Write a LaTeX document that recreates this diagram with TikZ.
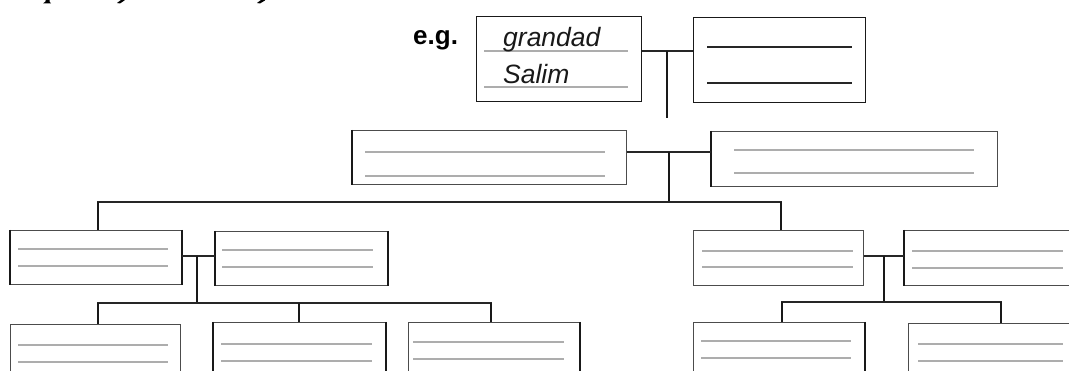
\documentclass[tikz,border=0pt]{standalone}
\usepackage{fontspec}
\newfontfamily\lsans{Liberation Sans}
\begin{document}
\begin{tikzpicture}[x=1pt,y=-1pt,
  box/.style={rectangle, draw=black!70, line width=0.9pt, anchor=north west, inner sep=0pt, fill=white},
  topbox/.style={box, draw=black!90, line width=1.4pt},
  thickside/.style={draw=black!90, line width=2.5pt},
  conn/.style={draw=black!85, line width=1.2pt},
  stem/.style={draw=black!90, line width=2.1pt},
  rule/.style={draw=black!32, line width=1.3pt},
  darkrule/.style={draw=black!85, line width=1.1pt},
  lbl/.style={font=\lsans\itshape\fontsize{26.5}{30}\selectfont, anchor=base west, inner sep=0pt, text=black!90},
  eglbl/.style={font=\lsans\bfseries\fontsize{26}{30}\selectfont, anchor=base west, inner sep=0pt}
]
\useasboundingbox (0,0) rectangle (1069,371);
\clip (0,0) rectangle (1069,371);
\fill[white] (0,0) rectangle (1069,371);

% cut-off descenders of a heading above the picture
\fill[black] (43,3.5) -- (51,3.5) -- (49.5,1.5) -- (49.5,0) -- (45.5,0) -- (45.5,1.5) -- cycle;
\fill[black] (117,3) -- (120,3.5) -- (124.5,0.5) -- (124.5,0) -- (121,0) -- cycle;
\fill[black] (257,3) -- (260,3.5) -- (265,0.5) -- (265,0) -- (261,0) -- cycle;

% coordinates of junctions
\coordinate (j1) at (667,51);
\coordinate (j1e) at (667,118);
\coordinate (j2) at (669,152);
\coordinate (j2b) at (669,202);
\coordinate (h1l) at (98,202);
\coordinate (h1r) at (781,202);
\coordinate (j3) at (197,256);
\coordinate (j3b) at (197,303);
\coordinate (h2l) at (98,303);
\coordinate (h2m) at (299,303);
\coordinate (h2r) at (491,303);
\coordinate (j4) at (884,256);
\coordinate (j4b) at (884,302);
\coordinate (h3l) at (782,302);
\coordinate (h3r) at (1001,302);

% boxes
\node[topbox, minimum width=165pt, minimum height=85pt] (b1) at (476,16) {};
\node[topbox, minimum width=172pt, minimum height=85pt] (b2) at (693,17) {};
\node[box, minimum width=274pt, minimum height=54pt] (b3) at (352,130) {};
\node[box, minimum width=286pt, minimum height=55pt] (b4) at (711,131) {};
\node[box, minimum width=171pt, minimum height=54pt] (b5) at (10,230) {};
\node[box, minimum width=172pt, minimum height=54pt] (b6) at (215,231) {};
\node[box, minimum width=170pt, minimum height=70pt] (b7) at (10,324) {};
\node[box, minimum width=172pt, minimum height=70pt] (b8) at (213,322) {};
\node[box, minimum width=171pt, minimum height=70pt] (b9) at (408,322) {};
\node[box, minimum width=170pt, minimum height=55pt] (b10) at (693,230) {};
\node[box, minimum width=185pt, minimum height=55pt] (b11) at (904,230) {};
\node[box, minimum width=171pt, minimum height=70pt] (b12) at (693,322) {};
\node[box, minimum width=185pt, minimum height=70pt] (b13) at (908,323) {};

% thick sides
\draw[thickside] (b3.north west) -- (b3.south west);
\draw[thickside] (b4.north west) -- (b4.south west);
\draw[thickside] (b5.north west) -- (b5.south west);
\draw[thickside] (b5.north east) -- (b5.south east);
\draw[thickside] (b6.north west) -- (b6.south west);
\draw[thickside] (b6.north east) -- (b6.south east);
\draw[thickside] (b8.north west) -- (b8.south west);
\draw[thickside] (b8.north east) -- (b8.south east);
\draw[thickside] (b9.north east) -- (b9.south east);
\draw[thickside] (b11.north west) -- (b11.south west);
\draw[thickside] (b12.north east) -- (b12.south east);

% writing lines inside boxes
\draw[rule] (484,51) -- (628,51);
\draw[rule] (484,87) -- (628,87);
\draw[darkrule] (707,47) -- (852,47);
\draw[darkrule] (707,83) -- (852,83);
\draw[rule] (365,152) -- (605,152);
\draw[rule] (365,176) -- (605,176);
\draw[rule] (734,150) -- (974,150);
\draw[rule] (734,173) -- (974,173);
\draw[rule] (18,249) -- (168,249);
\draw[rule] (18,266) -- (168,266);
\draw[rule] (222,250) -- (373,250);
\draw[rule] (222,267) -- (373,267);
\draw[rule] (18,345) -- (168,345);
\draw[rule] (18,362) -- (168,362);
\draw[rule] (221,344) -- (372,344);
\draw[rule] (221,361) -- (372,361);
\draw[rule] (413,342) -- (564,342);
\draw[rule] (413,359) -- (564,359);
\draw[rule] (702,251) -- (853,251);
\draw[rule] (702,267) -- (853,267);
\draw[rule] (912,251) -- (1063,251);
\draw[rule] (912,268) -- (1063,268);
\draw[rule] (701,341) -- (851,341);
\draw[rule] (701,358) -- (851,358);
\draw[rule] (918,344) -- (1063,344);
\draw[rule] (918,361) -- (1063,361);

% texts
\node[eglbl] (eg) at (413,45) {e.g.};
\node[lbl] (t1) at (503,47) {grandad};
\node[lbl] (t2) at (503,84) {Salim};

% connectors: couples
\draw[conn] (b1.east |- j1) -- (b2.west |- j1);
\draw[stem] (j1) -- (j1e);
\draw[conn] (b3.east |- j2) -- (b4.west |- j2);
\draw[stem] (j2) -- (j2b);
\draw[conn] (h1l |- b5.north) -- (h1l) -- (h1r) -- (h1r |- b10.north);
\draw[stem] (h1l) -- (h1l |- b5.north);
\draw[stem] (h1r) -- (h1r |- b10.north);

\draw[conn] (b5.east |- j3) -- (b6.west |- j3);
\draw[stem] (j3) -- (j3b);
\draw[conn] (h2l |- b7.north) -- (h2l) -- (h2r) -- (h2r |- b9.north);
\draw[stem] (h2l) -- (h2l |- b7.north);
\draw[stem] (h2m) -- (h2m |- b8.north);
\draw[stem] (h2r) -- (h2r |- b9.north);

\draw[conn] (b10.east |- j4) -- (b11.west |- j4);
\draw[stem] (j4) -- (j4b);
\draw[conn] (h3l |- b12.north) -- (h3l) -- (h3r) -- (h3r |- b13.north);
\draw[stem] (h3l) -- (h3l |- b12.north);
\draw[stem] (h3r) -- (h3r |- b13.north);
\end{tikzpicture}
\end{document}
